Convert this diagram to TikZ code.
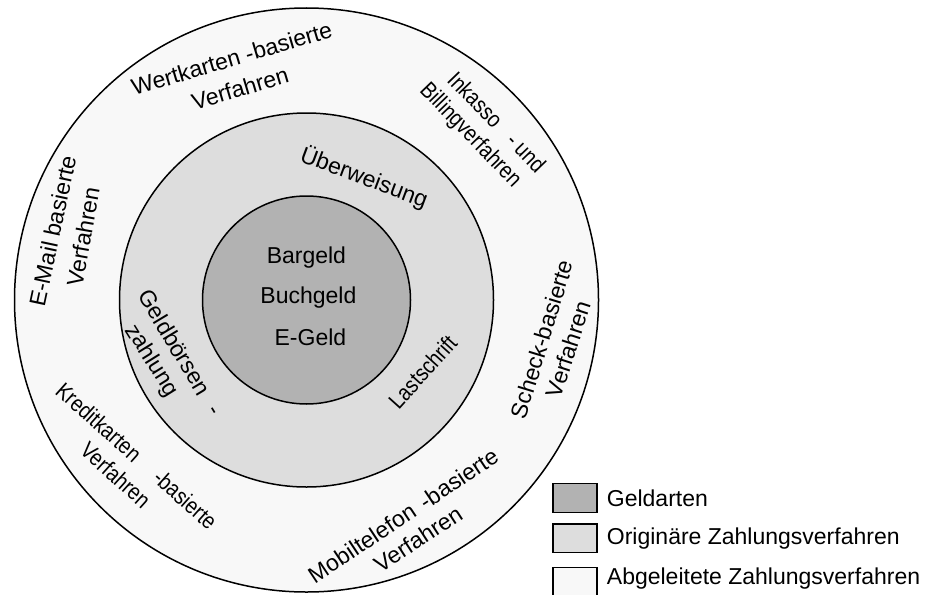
\documentclass[tikz,border=0pt]{standalone}
\usepackage{fontspec}
\setmainfont{Liberation Sans}
\newfontfamily\tightfont[FakeStretch=0.85]{Liberation Sans}
\definecolor{geld}{RGB}{178,178,178}
\definecolor{orig}{RGB}{221,221,221}
\definecolor{abgel}{RGB}{248,248,248}
\begin{document}
\begin{tikzpicture}[x=1pt,y=-1pt,
  lbl/.style={inner sep=0pt, font=\fontsize{23}{28}\selectfont, text height=16.5pt, text depth=0pt},
  tight/.style={lbl, font=\tightfont\fontsize{23}{28}\selectfont},
  ring/.style={circle, draw=black, line width=1.5pt, inner sep=0pt},
  legbox/.style={draw=black, line width=1.5pt, minimum width=43.7pt, minimum height=29pt, inner sep=0pt, anchor=north west}]
\useasboundingbox (0,0) rectangle (928,594);
\clip (0,0) rectangle (928,594);
\coordinate (c) at (306.5,300);
\node[ring, fill=abgel, minimum size=584pt] (outer) at (c) {};
\node[ring, fill=orig, minimum size=374pt] (middle) at (c) {};
\node[ring, fill=geld, minimum size=208pt] (inner) at (c) {};
% inner
\node[lbl, anchor=base] (bar) at (306.4,263) {Bargeld};
\node[lbl, anchor=base] (buch) at (308.4,303) {Buchgeld};
\node[lbl, anchor=base] (eg) at (310.4,345) {E-Geld};
% middle ring
\node[lbl, rotate=-20.5] (ueb) at (364.5,176.8) {Überweisung};
\node[lbl, rotate=-59] (geldb) at (180.8,352) {Geldbörsen\hspace{9pt} -};
\node[lbl, rotate=-58] (zahl) at (153.3,360) {zahlung};
\node[tight, rotate=48] (last) at (422.5,371.7) {Lastschrift};
% outer ring
\node[lbl, rotate=16.5] (wk1) at (231.7,58.3) {Wertkarten -basierte};
\node[lbl, rotate=16.5] (wk2) at (240,88.3) {Verfahren};
\node[tight, rotate=-46] (ink1) at (497,122) {Inkasso\hspace{12pt} - und};
\node[tight, rotate=-46] (ink2) at (471.7,134) {Billingverfahren};
\node[lbl, rotate=78] (em1) at (52.5,230.8) {E-Mail basierte};
\node[lbl, rotate=80] (em2) at (83,236.7) {Verfahren};
\node[lbl, rotate=73] (sc1) at (541.7,339.2) {Scheck-basierte};
\node[lbl, rotate=72] (sc2) at (568.3,349.2) {Verfahren};
\node[lbl, rotate=33.6] (mo1) at (403,515.5) {Mobiltelefon\hspace{3pt} -basierte};
\node[lbl, rotate=33] (mo2) at (418,539) {Verfahren};
\node[tight, rotate=-41.8] (kr1) at (136.7,455.8) {Kreditkarten\hspace{20pt} -basierte};
\node[tight, rotate=-42] (kr2) at (115.8,475) {Verfahren};
% legend
\node[legbox, fill=geld] (lg1) at (552.3,482.7) {};
\node[legbox, fill=orig, minimum height=28.4pt] (lg2) at (552.3,523.3) {};
\node[legbox, fill=abgel] (lg3) at (552.3,566.7) {};
\node[lbl, anchor=base west] (lt1) at (606.7,506) {Geldarten};
\node[lbl, anchor=base west] (lt2) at (606.7,544) {Originäre Zahlungsverfahren};
\node[lbl, anchor=base west] (lt3) at (606.7,584) {Abgeleitete Zahlungsverfahren};
\end{tikzpicture}
\end{document}
